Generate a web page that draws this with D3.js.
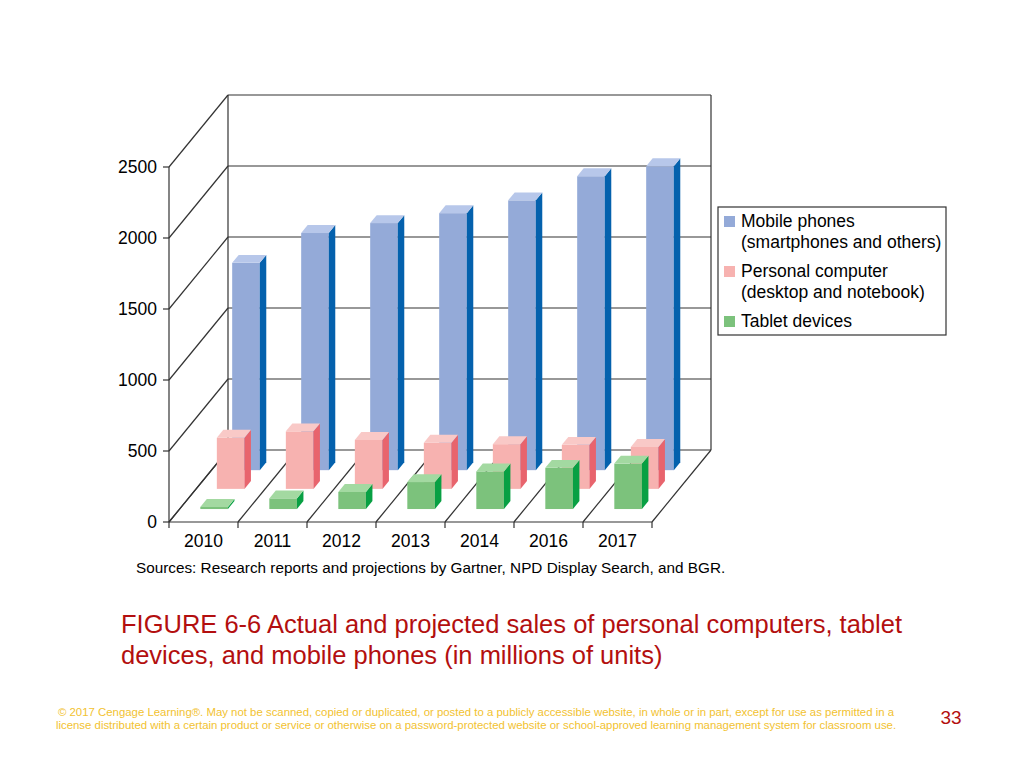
<!DOCTYPE html>
<html>
<head>
<meta charset="utf-8">
<script src="https://cdn.jsdelivr.net/npm/d3@7"></script>
<style>
  body { margin: 0; background: #fff; }
  svg text { font-family: "Liberation Sans", Arial, sans-serif; }
</style>
</head>
<body>
<div id="chart"></div>
<script>
// data (millions of units)
const years = ["2010", "2011", "2012", "2013", "2014", "2016", "2017"];
const mobilePhones = [1460, 1670, 1740, 1810, 1900, 2070, 2140];
const personalComputers = [360, 405, 345, 325, 315, 310, 295];
const tabletDevices = [15, 75, 120, 190, 265, 290, 320];
const yTicks = [0, 500, 1000, 1500, 2000, 2500];

const series = [
    { name: ["Mobile phones", "(smartphones and others)"], values: mobilePhones, depth: 0.72,
      front: "#94aad8", side: "#0461ad", top: "#b7c7ea" },
    { name: ["Personal computer", "(desktop and notebook)"], values: personalComputers, depth: 0.46,
      front: "#f7b2b0", side: "#e8646d", top: "#f9c9c7" },
    { name: ["Tablet devices"], values: tabletDevices, depth: 0.18,
      front: "#7cc27c", side: "#08a043", top: "#a3d9a1" }
];

const w = 1024, h = 768;
const svg = d3.select("#chart").append("svg")
    .attr("width", w).attr("height", h);

// 3d projection: full depth offset
const DX = 59, DY = -72;
const barDepth = 0.11;

const xScale = d3.scaleBand().domain(years).range([169, 652]);
const yScale = d3.scaleLinear().domain([0, 2500]).range([522, 167]);
const y0 = yScale(0);

const line = (x1, y1, x2, y2) => svg.append("line")
    .attr("x1", x1).attr("y1", y1).attr("x2", x2).attr("y2", y2)
    .attr("stroke", "#333").attr("stroke-width", 1.2);

// back wall + gridlines
const xL = xScale.range()[0], xR = xScale.range()[1];
yTicks.forEach(v => {
    line(xL + DX, yScale(v) + DY, xR + DX, yScale(v) + DY);
    line(xL, yScale(v), xL + DX, yScale(v) + DY);
    line(xL - 6, yScale(v), xL, yScale(v));
});
line(xL + DX, yScale(2500) + DY, xL + DX, y0 + DY);
line(xR + DX, yScale(2500) + DY, xR + DX, y0 + DY);
line(xL, yScale(2500), xL, y0);

// floor
line(xL, y0, xR, y0);
years.forEach(yr => {
    const x = xScale(yr);
    line(x, y0, x + DX, y0 + DY);
    line(x, y0, x, y0 + 6);
});
line(xR, y0, xR + DX, y0 + DY);
line(xR, y0, xR, y0 + 6);

// y labels
svg.selectAll("text.ylab")
    .data(yTicks).enter().append("text")
    .attr("class", "ylab")
    .attr("x", 157).attr("y", d => yScale(d) + 6)
    .attr("text-anchor", "end").attr("font-size", "17.5px")
    .text(d => d);

// x labels
svg.selectAll("text.xlab")
    .data(years).enter().append("text")
    .attr("class", "xlab")
    .attr("x", d => xScale(d) + xScale.bandwidth() / 2).attr("y", 547)
    .attr("text-anchor", "middle").attr("font-size", "17.5px")
    .text(d => d);

// bars, back series first
const bw = xScale.bandwidth() * 0.4;
const bdx = DX * barDepth, bdy = DY * barDepth;
series.forEach(s => {
    const g = svg.append("g");
    years.forEach((yr, i) => {
        const x0 = xScale(yr) + xScale.bandwidth() * 0.3 + s.depth * DX;
        const bottom = y0 + s.depth * DY;
        const top = bottom - (y0 - yScale(s.values[i]));
        g.append("rect")
            .attr("x", x0).attr("y", top)
            .attr("width", bw).attr("height", bottom - top)
            .attr("fill", s.front);
        g.append("polygon")
            .attr("points", [[x0 + bw, top], [x0 + bw + bdx, top + bdy],
                [x0 + bw + bdx, bottom + bdy], [x0 + bw, bottom]].join(" "))
            .attr("fill", s.side);
        g.append("polygon")
            .attr("points", [[x0, top], [x0 + bw, top],
                [x0 + bw + bdx, top + bdy], [x0 + bdx, top + bdy]].join(" "))
            .attr("fill", s.top);
    });
});

// legend
const legend = svg.append("g");
legend.append("rect")
    .attr("x", 718).attr("y", 207).attr("width", 228).attr("height", 128)
    .attr("fill", "#fff").attr("stroke", "#333").attr("stroke-width", 1.2);
let ly = 227;
series.forEach(s => {
    legend.append("rect")
        .attr("x", 724).attr("y", ly - 11).attr("width", 11).attr("height", 11)
        .attr("fill", s.front);
    s.name.forEach((t, k) => {
        legend.append("text")
            .attr("x", 741).attr("y", ly + k * 21)
            .attr("font-size", "17.5px").text(t);
    });
    ly += s.name.length * 21 + 8;
});

// source
svg.append("text")
    .attr("x", 136).attr("y", 573).attr("font-size", "15.3px")
    .text("Sources: Research reports and projections by Gartner, NPD Display Search, and BGR.");

// caption
const caption = ["FIGURE 6-6 Actual and projected sales of personal computers, tablet",
    "devices, and mobile phones (in millions of units)"];
svg.selectAll("text.cap")
    .data(caption).enter().append("text")
    .attr("class", "cap")
    .attr("x", 121).attr("y", (d, i) => 633 + i * 31)
    .attr("font-size", "25.5px").attr("fill", "#b30f0f")
    .text(d => d);

// footer
const footer = ["\u00a9 2017 Cengage Learning\u00ae. May not be scanned, copied or duplicated, or posted to a publicly accessible website, in whole or in part, except for use as permitted in a",
    "license distributed with a certain product or service or otherwise on a password-protected website or school-approved learning management system for classroom use."];
svg.selectAll("text.foot")
    .data(footer).enter().append("text")
    .attr("class", "foot")
    .attr("x", 476).attr("y", (d, i) => 716 + i * 13)
    .attr("text-anchor", "middle").attr("font-size", "11.4px").attr("fill", "#f2c230")
    .text(d => d);

svg.append("text")
    .attr("x", 951).attr("y", 724).attr("text-anchor", "middle")
    .attr("font-size", "19px").attr("fill", "#b30f0f")
    .text("33");
</script>
</body>
</html>
